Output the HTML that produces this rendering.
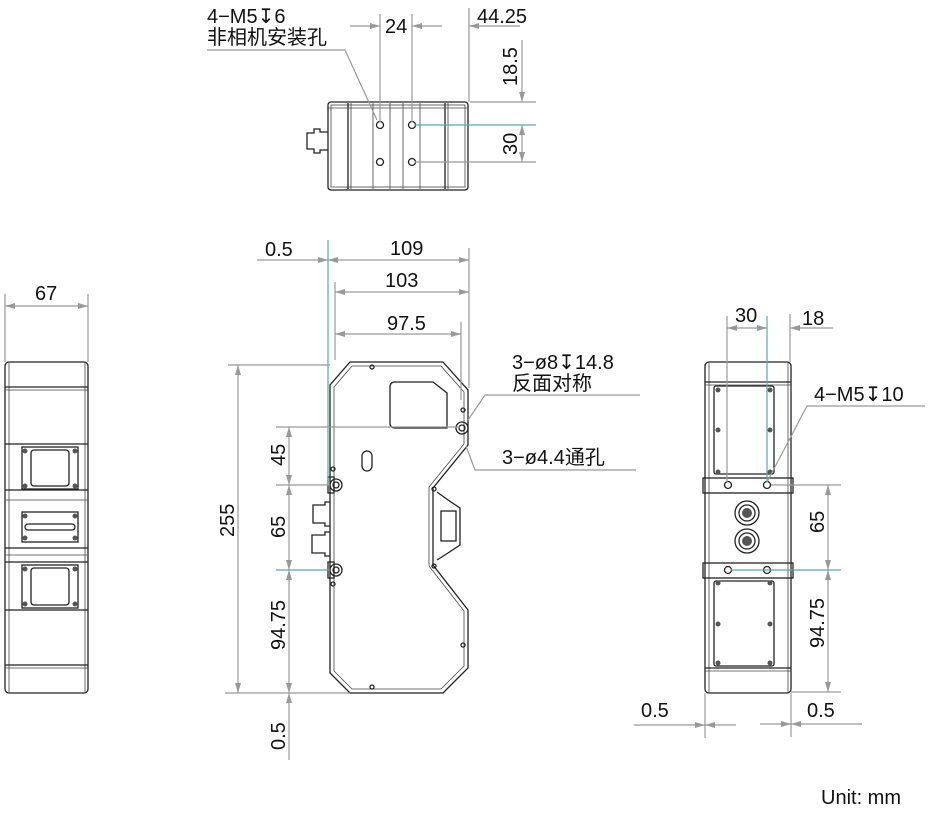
<!DOCTYPE html>
<html><head><meta charset="utf-8"><style>
html,body{margin:0;padding:0;background:#fff}
svg{display:block}
text{font-family:"Liberation Sans","Noto Sans CJK SC",sans-serif;font-size:20px;fill:#111}
.o{fill:none;stroke:#222;stroke-width:1.3}
.t{fill:none;stroke:#444;stroke-width:0.8}
.d{fill:none;stroke:#999;stroke-width:1.2}
.c{fill:none;stroke:#5aa8a8;stroke-width:1.2}
</style></head><body>
<svg width="928" height="821" viewBox="0 0 928 821" xmlns="http://www.w3.org/2000/svg">
<defs>
<marker id="a" viewBox="0 0 10 6" refX="10" refY="3" markerWidth="14" markerHeight="6" markerUnits="userSpaceOnUse" orient="auto-start-reverse"><path d="M0,0 L10,3 L0,6z" fill="#999"/></marker>
</defs>

<!-- TOP VIEW -->
<rect x="328" y="102" width="140" height="88" rx="3" class="o"/>
<rect x="331" y="105" width="134" height="82" class="t"/>
<line x1="348" y1="103" x2="348" y2="189" class="o"/><line x1="351" y1="103" x2="351" y2="189" class="t"/>
<line x1="373" y1="103" x2="373" y2="189" class="t"/><line x1="390" y1="103" x2="390" y2="189" class="t"/>
<line x1="403" y1="103" x2="403" y2="189" class="t"/><line x1="420" y1="103" x2="420" y2="189" class="t"/>
<line x1="445" y1="103" x2="445" y2="189" class="o"/><line x1="448" y1="103" x2="448" y2="189" class="t"/>
<line x1="328" y1="108" x2="468" y2="108" class="t"/>
<path d="M328,132 h-8 v-3 h-6 v4 h-7 v16 h7 v4 h6 v-3 h8" class="o"/>
<circle cx="380" cy="125" r="3.5" class="o"/><circle cx="380" cy="162" r="3.5" class="o"/>
<circle cx="412" cy="125" r="3.5" class="o"/><circle cx="412" cy="162" r="3.5" class="o"/>
<line x1="380" y1="14" x2="380" y2="122" class="d"/><line x1="412" y1="14" x2="412" y2="122" class="d"/>
<line x1="469" y1="8" x2="469" y2="102" class="d"/>
<line x1="350" y1="26" x2="380" y2="26" class="d" marker-end="url(#a)"/>
<line x1="442" y1="26" x2="412" y2="26" class="d" marker-end="url(#a)"/>
<line x1="520" y1="26" x2="469" y2="26" class="d" marker-end="url(#a)"/>
<text x="385" y="33">24</text><text x="477" y="23">44.25</text>
<line x1="470" y1="102" x2="536" y2="102" class="d"/>
<line x1="415" y1="125" x2="536" y2="125" class="c"/>
<line x1="415" y1="162" x2="536" y2="162" class="d"/>
<line x1="522" y1="40" x2="522" y2="102" class="d" marker-end="url(#a)"/>
<line x1="522" y1="125" x2="522" y2="162" class="d" marker-start="url(#a)" marker-end="url(#a)"/>
<text transform="translate(517,86) rotate(-90)">18.5</text>
<text transform="translate(517,155) rotate(-90)">30</text>
<text x="207" y="23">4−M5↧6</text><text x="207" y="44">非相机安装孔</text>
<polyline points="207,50 345,50 377,120" class="d"/>

<!-- LEFT VIEW -->
<rect x="5" y="362" width="83" height="331" rx="4" class="o"/>
<line x1="9" y1="363" x2="9" y2="692" class="t"/><line x1="85" y1="363" x2="85" y2="692" class="t"/>
<line x1="5" y1="387" x2="88" y2="387" class="o"/><line x1="5" y1="390" x2="88" y2="390" class="t"/>
<line x1="5" y1="444" x2="88" y2="444" class="o"/>
<line x1="5" y1="490" x2="88" y2="490" class="o"/><line x1="5" y1="500" x2="88" y2="500" class="t"/>
<line x1="5" y1="548" x2="88" y2="548" class="o"/><line x1="5" y1="555" x2="88" y2="555" class="t"/>
<line x1="5" y1="562" x2="88" y2="562" class="o"/><line x1="5" y1="610" x2="88" y2="610" class="o"/>
<line x1="5" y1="665" x2="88" y2="665" class="o"/><line x1="5" y1="668" x2="88" y2="668" class="t"/>
<rect x="22" y="447" width="56" height="42" class="o"/><rect x="31" y="450" width="38" height="36" rx="3" class="o"/>
<rect x="22" y="512" width="56" height="30" class="o"/><rect x="25" y="524" width="50" height="6" rx="3" class="o"/>
<rect x="22" y="565" width="56" height="43" class="o"/><rect x="31" y="568" width="38" height="37" rx="3" class="o"/>
<g fill="#555"><circle cx="25" cy="451" r="2.5"/><circle cx="75" cy="451" r="2.5"/><circle cx="25" cy="486" r="2.5"/><circle cx="75" cy="486" r="2.5"/>
<circle cx="25" cy="516" r="2.5"/><circle cx="75" cy="516" r="2.5"/><circle cx="25" cy="538" r="2.5"/><circle cx="75" cy="538" r="2.5"/>
<circle cx="25" cy="569" r="2.5"/><circle cx="75" cy="569" r="2.5"/><circle cx="25" cy="604" r="2.5"/><circle cx="75" cy="604" r="2.5"/></g>
<line x1="5" y1="294" x2="5" y2="362" class="d"/><line x1="88" y1="294" x2="88" y2="362" class="d"/>
<line x1="5" y1="306" x2="88" y2="306" class="d" marker-start="url(#a)" marker-end="url(#a)"/>
<text x="35" y="300">67</text>

<!-- FRONT VIEW -->
<path d="M350,362 L443,362 L468,390 L468,445 L433,488 L433,565 L468,610 L468,668 L443,693 L350,693 L330,673 L330,385 Z" class="o"/>
<path d="M352,366 L441,366 L464,392 L464,444 L429,487 L429,566 L464,611 L464,666 L441,689 L352,689 L334,671 L334,387 Z" class="t"/>
<path d="M395,382 L433,382 L447,393 L447,428 L395,428 Q390,428 390,423 L390,387 Q390,382 395,382Z" class="o"/>
<rect x="362" y="451" width="10" height="20" rx="5" class="o"/>
<path d="M437,492 L448,500 L460,508 L460,545 L448,553 L437,560" class="o"/>
<rect x="441" y="511" width="15" height="30" class="o"/>
<rect x="328" y="477" width="6" height="16" class="o"/><rect x="328" y="562" width="6" height="16" class="o"/>
<path d="M330,502 h-5 v3 h-12 v18 h12 v3 h5" class="o"/><path d="M330,532 h-5 v3 h-13 v18 h13 v3 h5" class="o"/>
<circle cx="336" cy="485" r="6" class="o"/><circle cx="336" cy="485" r="3" class="o"/>
<circle cx="336" cy="570" r="6" class="o"/><circle cx="336" cy="570" r="3" class="o"/>
<circle cx="462" cy="428" r="6" class="o"/><circle cx="462" cy="428" r="3" class="o"/>
<g class="o"><circle cx="372" cy="367" r="2"/><circle cx="372" cy="687" r="2"/><circle cx="333" cy="469" r="2"/><circle cx="333" cy="584" r="2"/><circle cx="463" cy="410" r="2"/><circle cx="434" cy="489" r="2"/><circle cx="434" cy="566" r="2"/><circle cx="463" cy="645" r="2"/></g>
<line x1="328" y1="240" x2="328" y2="485" class="c"/>
<line x1="335" y1="282" x2="335" y2="360" class="d"/>
<line x1="469" y1="248" x2="469" y2="388" class="d"/>
<line x1="461" y1="322" x2="461" y2="400" class="d"/>
<line x1="257" y1="260" x2="328" y2="260" class="d" marker-end="url(#a)"/>
<line x1="328" y1="260" x2="469" y2="260" class="d" marker-start="url(#a)" marker-end="url(#a)"/>
<line x1="335" y1="292" x2="469" y2="292" class="d" marker-start="url(#a)" marker-end="url(#a)"/>
<line x1="335" y1="334" x2="461" y2="334" class="d" marker-start="url(#a)" marker-end="url(#a)"/>
<text x="265" y="256">0.5</text><text x="390" y="255">109</text><text x="385" y="287">103</text><text x="387" y="330">97.5</text>
<line x1="228" y1="365" x2="330" y2="365" class="d"/>
<line x1="225" y1="693" x2="350" y2="693" class="d"/>
<line x1="276" y1="427" x2="460" y2="427" class="d"/>
<line x1="276" y1="485" x2="330" y2="485" class="d"/>
<line x1="276" y1="570" x2="330" y2="570" class="c"/>
<line x1="238" y1="365" x2="238" y2="693" class="d" marker-start="url(#a)" marker-end="url(#a)"/>
<line x1="289" y1="427" x2="289" y2="485" class="d" marker-start="url(#a)" marker-end="url(#a)"/>
<line x1="289" y1="485" x2="289" y2="570" class="d" marker-start="url(#a)" marker-end="url(#a)"/>
<line x1="289" y1="570" x2="289" y2="693" class="d" marker-start="url(#a)" marker-end="url(#a)"/>
<line x1="289" y1="693" x2="289" y2="760" class="d" marker-start="url(#a)"/>
<text transform="translate(234,537) rotate(-90)">255</text>
<text transform="translate(285,466) rotate(-90)">45</text>
<text transform="translate(285,538) rotate(-90)">65</text>
<text transform="translate(285,650) rotate(-90)">94.75</text>
<text transform="translate(285,750) rotate(-90)">0.5</text>
<text x="512" y="369">3−ø8↧14.8</text><text x="512" y="390">反面对称</text>
<polyline points="640,395 485,395 468,420" class="d"/>
<text x="502" y="464">3−ø4.4通孔</text>
<polyline points="636,470 475,470 466,446" class="d"/>

<!-- RIGHT VIEW -->
<rect x="705" y="362" width="86" height="331" rx="4" class="o"/>
<line x1="709" y1="363" x2="709" y2="692" class="t"/><line x1="788" y1="363" x2="788" y2="692" class="t"/>
<line x1="705" y1="382" x2="791" y2="382" class="o"/><line x1="705" y1="385" x2="791" y2="385" class="t"/>
<rect x="703" y="478" width="90" height="15" class="o"/><rect x="703" y="563" width="90" height="15" class="o"/>
<line x1="705" y1="668" x2="791" y2="668" class="o"/><line x1="705" y1="671" x2="791" y2="671" class="t"/>
<rect x="714" y="386" width="60" height="88" rx="2" class="o"/>
<rect x="714" y="581" width="60" height="85" rx="2" class="o"/>
<g fill="#555"><circle cx="718" cy="390" r="2.5"/><circle cx="770" cy="390" r="2.5"/><circle cx="718" cy="430" r="2.5"/><circle cx="770" cy="430" r="2.5"/><circle cx="718" cy="472" r="2.5"/><circle cx="770" cy="472" r="2.5"/>
<circle cx="718" cy="583" r="2.5"/><circle cx="770" cy="583" r="2.5"/><circle cx="718" cy="624" r="2.5"/><circle cx="770" cy="624" r="2.5"/><circle cx="718" cy="663" r="2.5"/><circle cx="770" cy="663" r="2.5"/></g>
<circle cx="747" cy="513" r="12" class="o"/><circle cx="747" cy="513" r="8" class="o"/><circle cx="747" cy="513" r="5" fill="#555"/>
<circle cx="747" cy="541" r="12" class="o"/><circle cx="747" cy="541" r="8" class="o"/><circle cx="747" cy="541" r="5" fill="#555"/>
<circle cx="728" cy="485" r="3.5" class="o"/><circle cx="767" cy="485" r="3.5" class="o"/>
<circle cx="728" cy="570" r="3.5" class="o"/><circle cx="767" cy="570" r="3.5" class="o"/>
<line x1="727" y1="316" x2="727" y2="482" class="d"/>
<line x1="767" y1="316" x2="767" y2="482" class="c"/>
<line x1="790" y1="314" x2="790" y2="362" class="d"/>
<line x1="727" y1="328" x2="767" y2="328" class="d" marker-start="url(#a)" marker-end="url(#a)"/>
<line x1="833" y1="328" x2="790" y2="328" class="d" marker-end="url(#a)"/>
<text x="735" y="322">30</text><text x="802" y="325">18</text>
<text x="814" y="401">4−M5↧10</text>
<polyline points="925,406 807,406 767,482" class="d"/>
<line x1="771" y1="485" x2="841" y2="485" class="d"/>
<line x1="731" y1="570" x2="841" y2="570" class="c"/>
<line x1="791" y1="692" x2="841" y2="692" class="d"/>
<line x1="828" y1="485" x2="828" y2="570" class="d" marker-start="url(#a)" marker-end="url(#a)"/>
<line x1="828" y1="570" x2="828" y2="692" class="d" marker-start="url(#a)" marker-end="url(#a)"/>
<text transform="translate(824,533) rotate(-90)">65</text>
<text transform="translate(824,648) rotate(-90)">94.75</text>
<line x1="705" y1="693" x2="705" y2="738" class="d"/><line x1="791" y1="693" x2="791" y2="737" class="d"/>
<line x1="634" y1="725" x2="705" y2="725" class="d" marker-end="url(#a)"/>
<line x1="736" y1="725" x2="705" y2="725" class="d" marker-end="url(#a)"/>
<line x1="760" y1="724" x2="791" y2="724" class="d" marker-end="url(#a)"/>
<line x1="862" y1="724" x2="791" y2="724" class="d" marker-end="url(#a)"/>
<text x="641" y="717">0.5</text><text x="807" y="717">0.5</text>

<text x="821" y="804">Unit: mm</text>
</svg>
</body></html>
